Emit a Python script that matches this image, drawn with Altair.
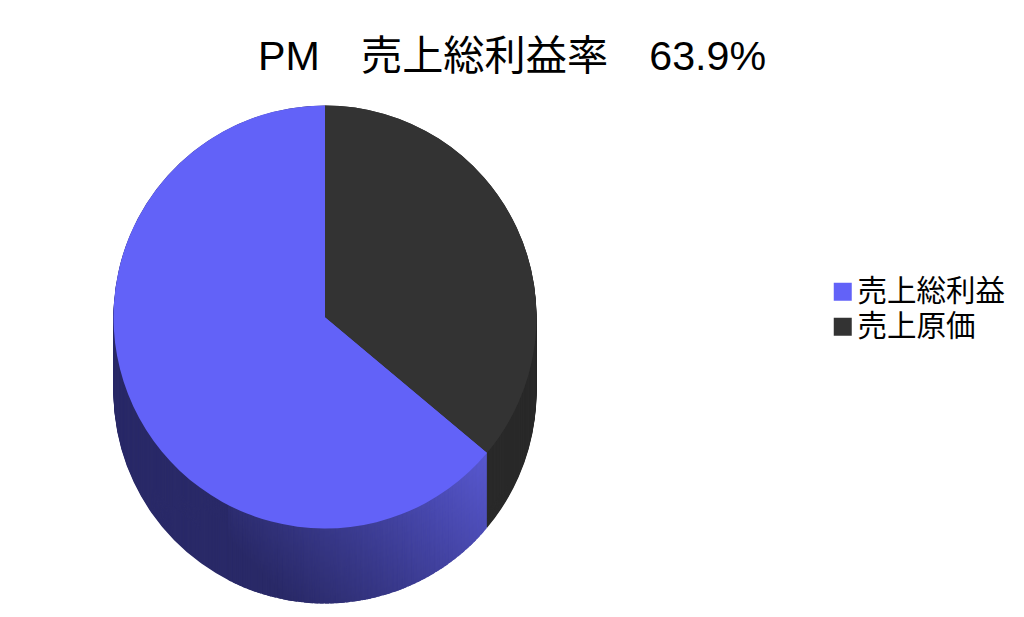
import altair as alt
import pandas as pd
import math

FONT = "Liberation Sans, Noto Sans CJK JP, sans-serif"
title_text = "PM　売上総利益率　63.9%"
categories = ["売上総利益", "売上原価"]
shares = [63.9, 36.1]          # percent of the pie
top_colors = ["#6262f8", "#333333"]
cost_wall = "#2a2a2a"
wall_dark = "#2a2a68"
wall_light = "#5858d0"
wall_depth = 75
radius = 211.5
centre_px = (317, 309)         # pie centre inside the plot area

cost_end = shares[1]
top = pd.DataFrame({
    "cat": categories,
    "start": [cost_end, 0],
    "end": [100, cost_end],
})

depths = list(range(wall_depth, -1, -1))

# Side wall: thin stacked copies of the pie, shaded along a diagonal gradient.
def shade(pct, d):
    a = pct / 100 * 2 * math.pi
    x = centre_px[0] + 8 + radius * math.sin(a)
    y = centre_px[1] + 8 - radius * math.cos(a) + d
    return x - y

cuts = [cost_end + i * 0.4 for i in range(0, 54)]
rows = []
for d in depths:
    rows.append({"depth": d, "start": cuts[-1], "end": 100, "shade": -400.0})
    for s in reversed(cuts[:-1]):
        rows.append({"depth": d, "start": s, "end": s + 0.7, "shade": shade(s + 0.2, d)})
blue_wall = pd.DataFrame(rows)
black_wall = pd.DataFrame([{"depth": d, "start": 0, "end": cost_end} for d in depths])

theta_scale = alt.Scale(domain=[0, 100], range=[0, 2 * math.pi])
y_scale = alt.Scale(domain=[0, 601], range=[centre_px[1], centre_px[1] + 601])
x_pos = alt.value(centre_px[0])
y_enc = alt.Y("depth:Q", scale=y_scale, axis=None, stack=False)

black = alt.Chart(black_wall).mark_arc(outerRadius=radius, color=cost_wall).encode(
    x=x_pos,
    y=y_enc,
    theta=alt.Theta("start:Q", scale=theta_scale, stack=False),
    theta2="end:Q",
)
blue = alt.Chart(blue_wall).mark_arc(outerRadius=radius).encode(
    x=x_pos,
    y=y_enc,
    theta=alt.Theta("start:Q", scale=theta_scale, stack=False),
    theta2="end:Q",
    color=alt.Color("shade:Q", legend=None,
                    scale=alt.Scale(domain=[-310, 33], range=[wall_dark, wall_light], clamp=True)),
)
face = alt.Chart(top).transform_calculate(depth="0").mark_arc(outerRadius=radius).encode(
    x=x_pos,
    y=y_enc,
    theta=alt.Theta("start:Q", scale=theta_scale, stack=False),
    theta2="end:Q",
    color=alt.Color("cat:N", sort=categories,
                    scale=alt.Scale(domain=categories, range=top_colors),
                    legend=alt.Legend(orient="none", legendX=820, legendY=269, title=None,
                                      symbolType="square", symbolSize=324, symbolStrokeWidth=0,
                                      labelFont=FONT, labelFontSize=29.5, labelColor="#000000",
                                      labelOffset=0, rowPadding=4, labelLimit=300)),
)

chart = alt.layer(black, blue, face).resolve_scale(color="independent").properties(
    width=1008, height=601,
    padding=0,
    autosize=alt.AutoSizeParams(type="none"),
    title=alt.Title(title_text, font=FONT, fontSize=41.2, fontWeight="normal", color="#000000",
                    anchor="middle", offset=-112, baseline="bottom"),
).configure_view(stroke=None)

chart.save("out.html", embed_options={"renderer": "svg", "actions": False})
